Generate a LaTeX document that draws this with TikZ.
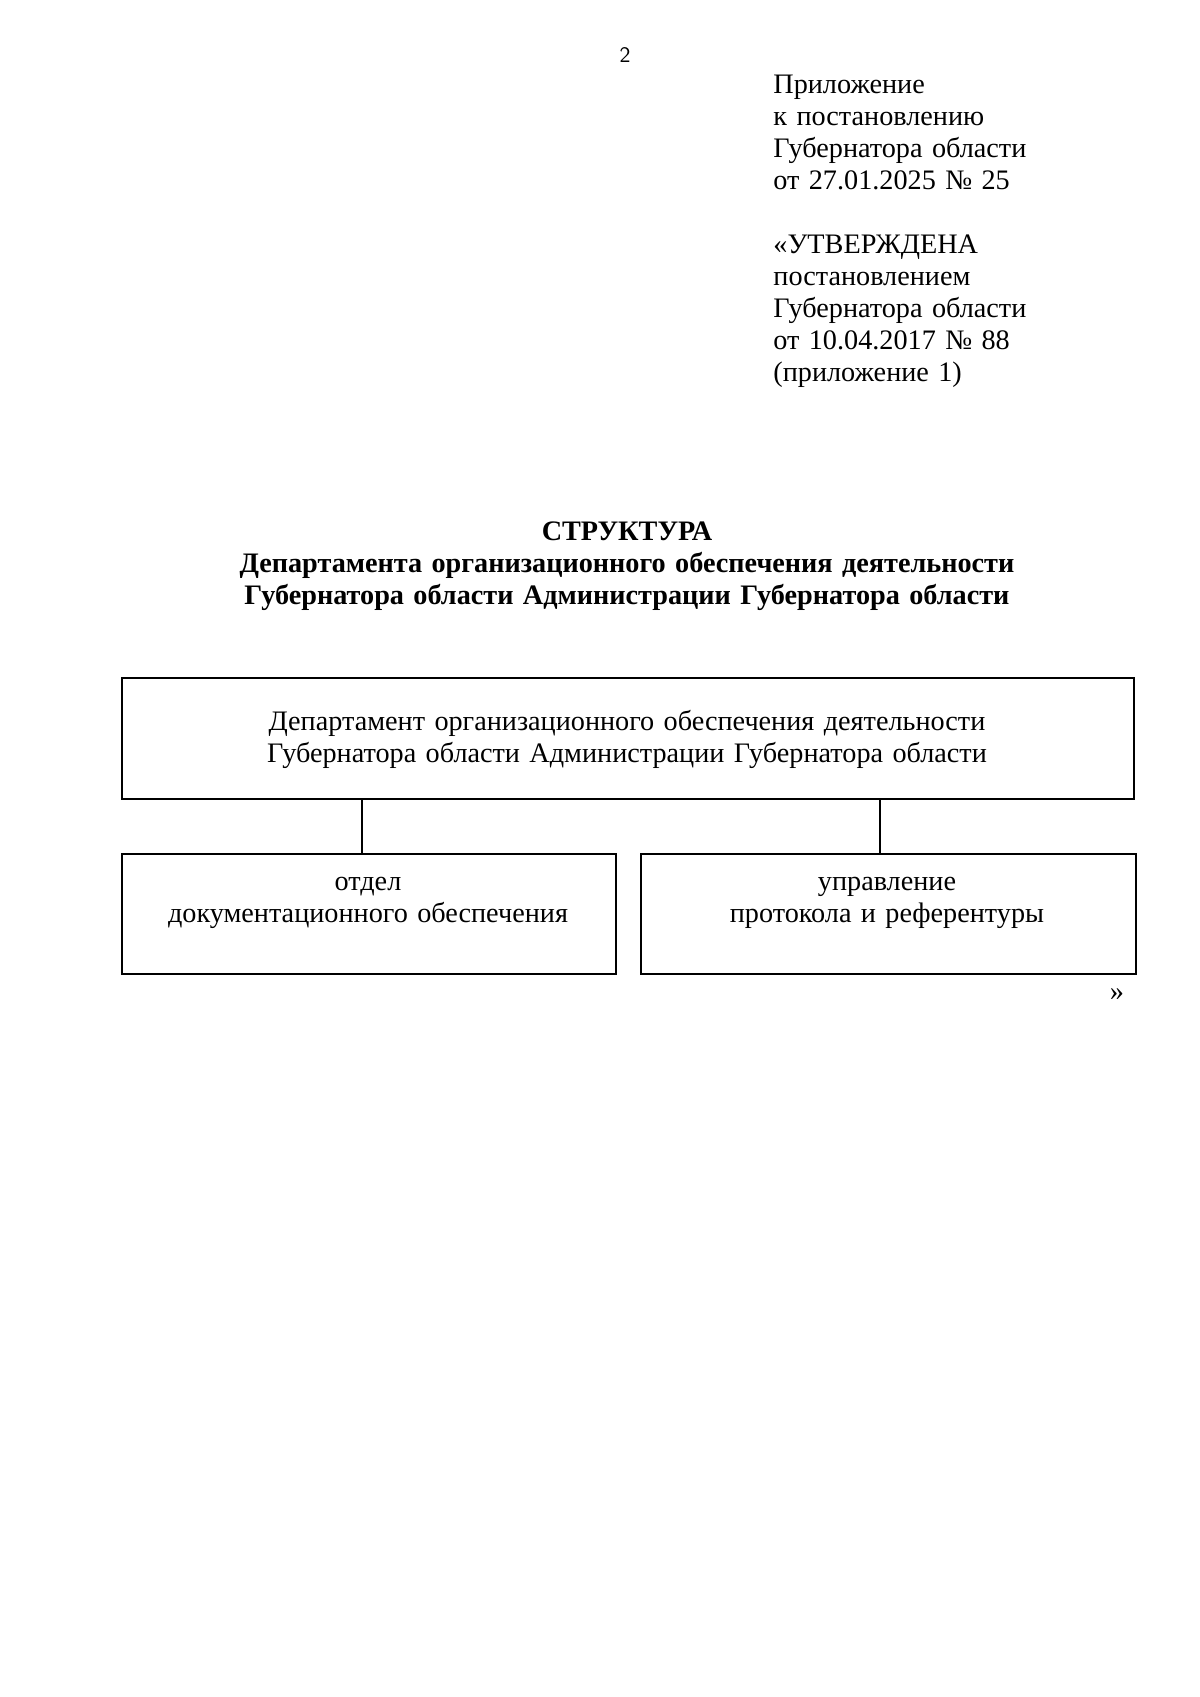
\documentclass[tikz,border=0pt]{standalone}
\usepackage{fontspec}
\setmainfont{Liberation Serif}
\begin{document}
\begin{tikzpicture}[x=0.4961pt,y=-0.4961pt,
  txt/.style={inner sep=0pt,font=\fontsize{14pt}{15.9pt}\selectfont},
  boxn/.style={draw,line width=1pt,inner sep=0pt},
  conn/.style={line width=0.8pt}]
\useasboundingbox (0,0) rectangle (1200,1697);
\node[inner sep=0pt,font=\sffamily\fontsize{11pt}{13pt}\selectfont,anchor=base] (pnum) at (625,62) {2};
\node[txt,anchor=base west,text width=300pt,align=left] (app) at (773,93)
  {Приложение\\к постановлению\\Губернатора области\\от 27.01.2025 № 25};
\node[txt,anchor=base west,text width=300pt,align=left] (appr) at (773,253)
  {«УТВЕРЖДЕНА\\постановлением\\Губернатора области\\от 10.04.2017 № 88\\(приложение 1)};
\node[txt,anchor=base,text width=560pt,align=center,font=\fontsize{14pt}{15.9pt}\selectfont\bfseries] (title) at (627,540)
  {СТРУКТУРА\\Департамента организационного обеспечения деятельности\\Губернатора области Администрации Губернатора области};
\node[boxn,anchor=north west,minimum width=502pt,minimum height=60pt] (top) at (121,677) {};
\node[txt,anchor=base,text width=520pt,align=center] (toptxt) at (627,730)
  {Департамент организационного обеспечения деятельности\\Губернатора области Администрации Губернатора области};
\node[boxn,anchor=north west,minimum width=245pt,minimum height=59.5pt] (lb) at (121,853) {};
\node[boxn,anchor=north west,minimum width=245.5pt,minimum height=59.5pt] (rb) at (640,853) {};
\node[txt,anchor=base,text width=240pt,align=center] (lbtxt) at (368,890)
  {отдел\\документационного обеспечения};
\node[txt,anchor=base,text width=240pt,align=center] (rbtxt) at (887,890)
  {управление\\протокола и референтуры};
\coordinate (c1) at (362,0);
\coordinate (c2) at (880,0);
\draw[conn] (top.south -| c1) -- (lb.north -| c1);
\draw[conn] (top.south -| c2) -- (rb.north -| c2);
\node[txt,anchor=base] (close) at (1117,1000) {»};
\end{tikzpicture}
\end{document}
